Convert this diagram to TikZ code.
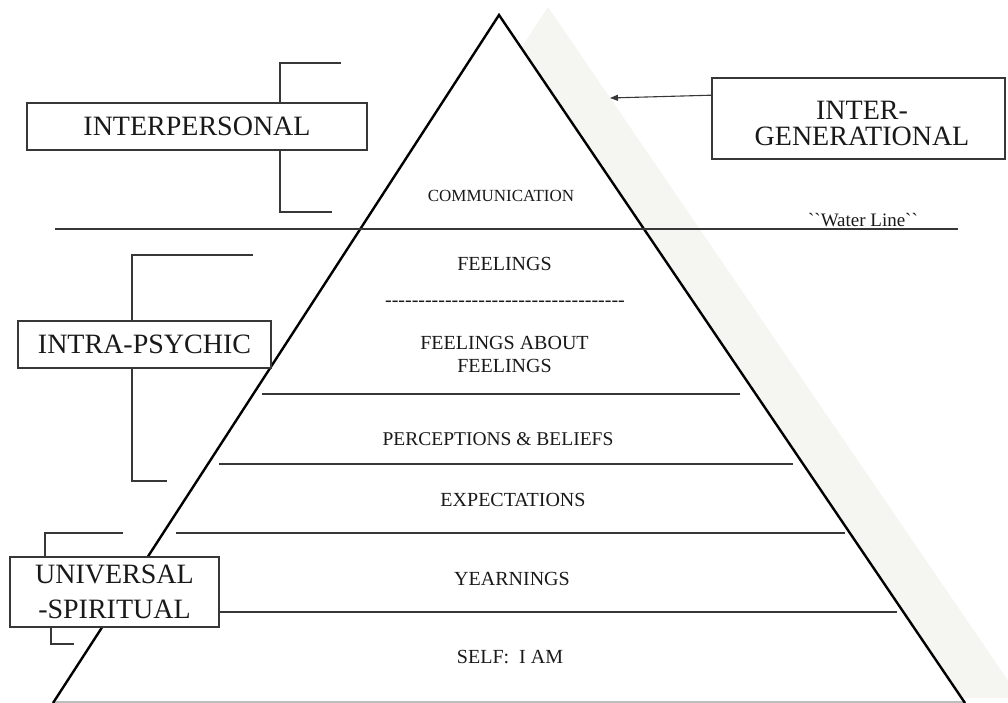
\documentclass[tikz,border=0pt]{standalone}
\usepackage{fontspec}
\setmainfont{Liberation Serif}[Ligatures=TeXOff]
\usetikzlibrary{arrows.meta}
\definecolor{shadowc}{RGB}{245,246,241}
\definecolor{ink}{RGB}{25,25,25}
\definecolor{rulec}{RGB}{55,55,55}
\definecolor{basec}{RGB}{190,190,190}
\begin{document}
\begin{tikzpicture}[x=1pt,y=-1pt,
  tri/.style={line width=2.4pt, draw=black},
  hline/.style={line width=1.4pt, draw=rulec},
  brk/.style={line width=1.3pt, draw=rulec},
  lbox/.style={draw=rulec, line width=1.3pt, fill=white, inner sep=0pt, text=ink,
    font=\fontsize{28}{28}\selectfont, align=center},
  lvl/.style={text=ink, inner sep=0pt, anchor=base, font=\fontsize{20}{20}\selectfont},
]
\useasboundingbox (0,0) rectangle (1008,703);
\clip (0,0) rectangle (1008,703);
% shadow
\fill[shadowc] (548,7) -- (94,698) -- (1020,698) -- cycle;
% triangle
\coordinate (apex) at (499,15);
\coordinate (bl) at (53,703);
\coordinate (br) at (965,703);
\fill[white] (apex) -- (bl) -- (br) -- cycle;
\draw[line width=1.2pt, draw=basec] (53,702) -- (965,702);
\draw[tri] (bl) -- (apex) -- (br);
% horizontal lines
\draw[hline] (55,229) -- (958,229);
\draw[hline] (262,394) -- (740,394);
\draw[hline] (219,464) -- (793,464);
\draw[hline] (176,533) -- (845,533);
\draw[hline] (219,612) -- (897,612);
% brackets
\draw[brk] (341,63) -- (280,63) -- (280,212) -- (332,212);
\draw[brk] (253,255) -- (132,255) -- (132,481) -- (167,481);
\draw[brk] (123,533) -- (45,533) -- (45,557);
\draw[brk] (51,627) -- (51,644) -- (74,644);
% boxes
\node[lbox, minimum width=340pt, minimum height=47pt] (ip) at (197,126.5) {INTERPERSONAL};
\node[lbox, minimum width=293pt, minimum height=81pt] (ig) at (858.5,118.5) {};
\node[text=ink, inner sep=0pt, align=center, font=\fontsize{28}{26}\selectfont] (igt) at (862,123.5) {INTER-\\GENERATIONAL};
\node[lbox, minimum width=253pt, minimum height=47pt] (ia) at (144.5,344.5) {INTRA-PSYCHIC};
\node[lbox, minimum width=209pt, minimum height=70pt, font=\fontsize{28}{35}\selectfont] (us) at (114.5,592) {UNIVERSAL\\-SPIRITUAL};
% arrow
\coordinate (tip) at (610,98);
\draw[line width=1.1pt, draw=rulec, -{Triangle[length=8pt,width=6pt]}] (ig.171) -- (tip);
% level texts
\node[lvl, font=\fontsize{17}{17}\selectfont] (comm) at (501,202) {COMMUNICATION};
\node[lvl] (feel) at (504.5,270) {FEELINGS};
\node[lvl] (dash) at (505,306) {------------------------------------};
\node[text=ink, inner sep=0pt, align=center, font=\fontsize{20}{23}\selectfont] (ff) at (504.5,354) {FEELINGS ABOUT\\FEELINGS};
\node[lvl, font=\fontsize{19.5}{19.5}\selectfont] (pb) at (498,445) {PERCEPTIONS \& BELIEFS};
\node[lvl] (ex) at (513,506) {EXPECTATIONS};
\node[lvl] (ye) at (512,585) {YEARNINGS};
\node[lvl] (self) at (510,663) {SELF:\ \ I AM};
\node[lvl, font=\fontsize{19}{19}\selectfont] (wl) at (863,226) {``Water Line``};
\end{tikzpicture}
\end{document}
